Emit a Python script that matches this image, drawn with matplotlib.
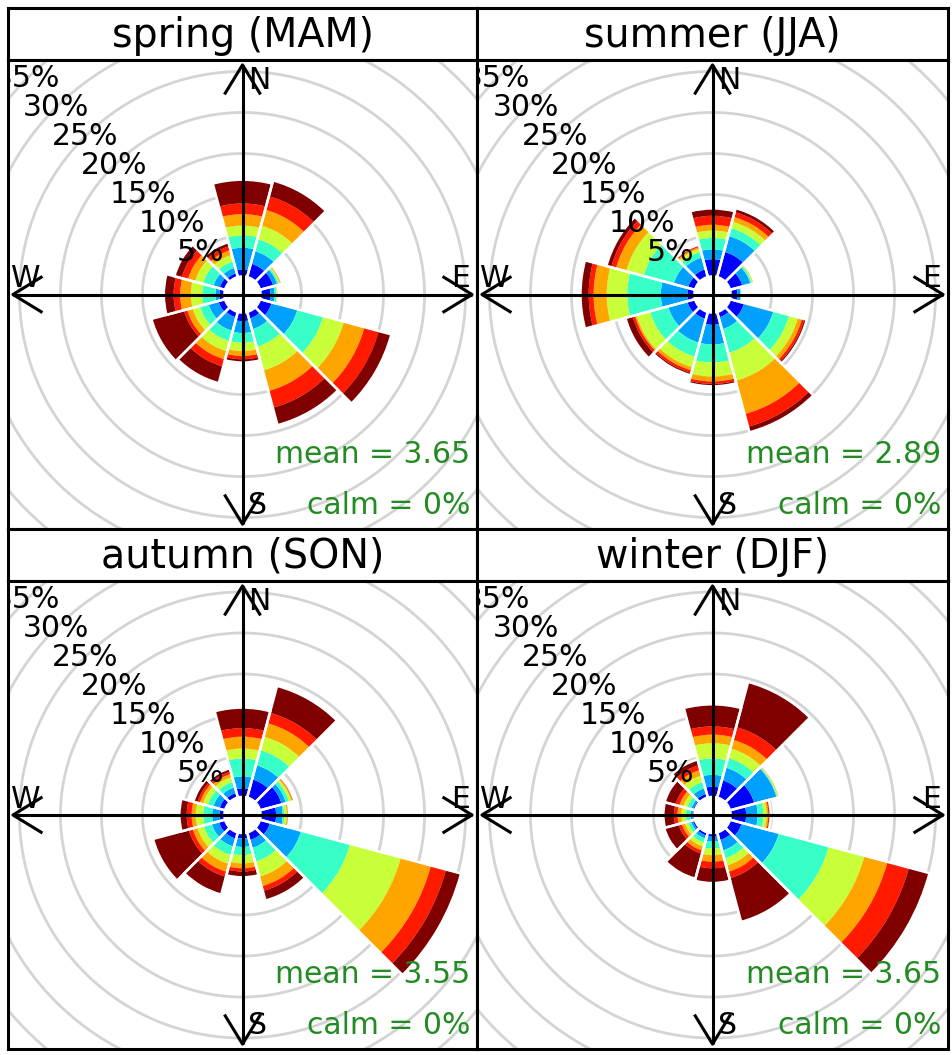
import matplotlib
matplotlib.use("Agg")
import matplotlib.pyplot as plt
from matplotlib.patches import Wedge
import numpy as np

W_PX, H_PX = 952, 1055
PX_PER_PCT = 8.2          # ring spacing: 41 px per 5 %
OFFSET = 2.2              # size of the hole, in %

seasons = ["spring (MAM)", "summer (JJA)", "autumn (SON)", "winter (DJF)"]
mean_ws = ["3.65", "2.89", "3.55", "3.65"]
calm_pct = [0, 0, 0, 0]
directions = [0, 30, 60, 90, 120, 150, 180, 210, 240, 270, 300, 330]
ring_pct = [5, 10, 15, 20, 25, 30, 35]
speed_cols = ["#0000FF", "#00A0FF", "#38FFC8", "#C8FF38", "#FFA500", "#FF1A00", "#800000"]

# cumulative frequency (%) at the top of each speed bin, one row per direction
spring = [
    [0.85, 3.5, 5.0, 6.2, 7.6, 8.9, 11.8],
    [1.7, 3.3, 4.8, 6.5, 8.5, 10.2, 12.2],
    [1.7, 2.2, 2.4, 2.55, 2.65, 2.7, 2.8],
    [1.2, 1.7, 1.95, 2.05, 2.1, 2.15, 2.2],
    [1.5, 4.75, 8.0, 10.6, 13.2, 15.0, 16.6],
    [0.85, 2.2, 4.4, 7.4, 10.0, 12.1, 14.3],
    [1.05, 2.5, 3.7, 4.7, 5.3, 5.7, 6.1],
    [0.7, 2.4, 3.7, 5.0, 6.0, 6.9, 9.0],
    [0.85, 2.1, 3.2, 4.1, 4.8, 5.2, 9.3],
    [0.6, 1.1, 2.7, 4.1, 5.4, 6.2, 7.4],
    [0.7, 1.5, 2.8, 3.8, 4.7, 5.5, 6.4],
    [0.5, 1.2, 2.0, 2.8, 3.4, 3.9, 4.4],
]
summer = [
    [2.1, 3.3, 4.7, 5.6, 6.3, 7.4, 8.3],
    [3.2, 5.2, 6.2, 7.0, 7.6, 8.2, 8.7],
    [1.6, 2.6, 2.8, 2.9, 3.0, 3.05, 3.1],
    [0.85, 1.2, 1.3, 1.35, 1.4, 1.42, 1.45],
    [1.8, 5.5, 7.5, 8.6, 9.1, 9.4, 9.7],
    [0.7, 2.2, 5.2, 8.7, 12.9, 14.5, 15.2],
    [1.5, 3.9, 6.1, 7.8, 8.4, 8.7, 9.0],
    [0.9, 3.9, 5.7, 7.0, 7.4, 7.7, 8.0],
    [1.0, 3.4, 5.7, 7.4, 7.6, 7.9, 8.8],
    [0.85, 4.1, 8.2, 10.7, 12.3, 12.9, 13.9],
    [0.9, 2.7, 6.5, 8.7, 10.0, 10.6, 11.2],
    [1.0, 2.5, 3.2, 3.6, 3.8, 3.95, 4.1],
]
autumn = [
    [1.05, 2.5, 4.7, 5.9, 7.35, 8.4, 10.9],
    [2.3, 4.1, 6.0, 7.7, 9.4, 10.7, 14.1],
    [2.75, 3.3, 3.7, 4.0, 4.15, 4.25, 4.35],
    [1.9, 2.7, 2.9, 3.2, 3.35, 3.45, 3.5],
    [1.3, 5.2, 11.4, 17.8, 21.6, 23.5, 25.4],
    [1.0, 2.0, 3.7, 5.6, 6.8, 7.4, 8.6],
    [0.65, 1.7, 2.7, 3.7, 4.3, 4.7, 5.4],
    [0.8, 1.8, 2.9, 4.0, 5.0, 5.6, 7.85],
    [0.8, 1.7, 2.7, 3.5, 4.1, 4.6, 9.1],
    [0.6, 1.5, 2.6, 3.5, 4.0, 4.6, 5.5],
    [0.7, 1.5, 2.2, 2.8, 3.2, 3.5, 4.0],
    [0.6, 1.3, 2.0, 2.6, 3.0, 3.3, 3.7],
]
winter = [
    [1.25, 2.7, 4.7, 6.55, 7.6, 8.6, 11.3],
    [2.2, 3.8, 5.0, 6.2, 7.3, 8.9, 14.6],
    [3.1, 5.9, 6.0, 6.1, 6.15, 6.2, 6.3],
    [1.9, 3.3, 4.0, 4.4, 4.6, 4.75, 4.9],
    [1.5, 6.2, 12.5, 17.0, 19.9, 22.6, 25.2],
    [1.0, 2.3, 3.3, 4.2, 5.0, 5.8, 11.3],
    [0.45, 1.05, 1.9, 2.7, 3.5, 4.3, 6.1],
    [0.4, 0.8, 1.3, 1.8, 2.3, 2.7, 5.85],
    [0.3, 0.55, 0.9, 1.3, 1.7, 2.1, 3.9],
    [0.25, 0.5, 1.05, 1.6, 2.07, 2.5, 3.8],
    [0.25, 0.5, 1.0, 1.5, 2.0, 2.5, 3.85],
    [0.5, 1.2, 2.0, 2.8, 3.5, 4.1, 4.8],
]
season_data = [spring, summer, autumn, winter]

# panel frames in pixels: columns and rows (strip, plot)
col_px = [(8, 477), (477, 948)]
row_px = [((8, 60), (60, 529)), ((529, 581), (581, 1049))]

fig = plt.figure(figsize=(W_PX / 100, H_PX / 100), dpi=100)
fig.patch.set_facecolor("white")


def px_axes(x0, y0, x1, y1):
    ax = fig.add_axes([x0 / W_PX, 1 - y1 / H_PX, (x1 - x0) / W_PX, (y1 - y0) / H_PX])
    ax.set_xticks([])
    ax.set_yticks([])
    for s in ax.spines.values():
        s.set_linewidth(2.2)
        s.set_color("black")
    return ax


lw_axis = 2.2
for i, name in enumerate(seasons):
    (sx0, sx1) = col_px[i % 2]
    (st, pl) = row_px[i // 2]

    strip = px_axes(sx0, st[0], sx1, st[1])
    strip.set_xlim(0, 1)
    strip.set_ylim(0, 1)
    strip.text(0.5, 0.47, name, ha="center", va="center", fontsize=28.5)

    ax = px_axes(sx0, pl[0], sx1, pl[1])
    hx = (sx1 - sx0) / 2 / PX_PER_PCT
    hy = (pl[1] - pl[0]) / 2 / PX_PER_PCT
    ax.set_xlim(-hx, hx)
    ax.set_ylim(-hy, hy)

    # grid circles
    th = np.linspace(0, 2 * np.pi, 400)
    for p in ring_pct:
        r = p + OFFSET
        ax.plot(r * np.cos(th), r * np.sin(th), color="#d4d4d4", lw=2, zorder=1)

    # stacked wedges
    cum = season_data[i]
    for d, row in zip(directions, cum):
        t1, t2 = 90 - d - 15, 90 - d + 15
        inner = 0.0
        for c, top in zip(speed_cols, row):
            ax.add_patch(Wedge((0, 0), top + OFFSET, t1, t2, width=top - inner,
                               facecolor=c, edgecolor="none", zorder=2))
            inner = top
        ax.add_patch(Wedge((0, 0), row[-1] + OFFSET, t1, t2, width=row[-1],
                           facecolor="none", edgecolor="white", lw=1.8, zorder=2.5))

    # compass arrows
    tx, ty = hx - 0.6, hy - 0.6
    hl, hw = 3.6, 2.2
    kw = dict(color="black", lw=lw_axis, zorder=3, solid_capstyle="butt")
    ax.plot([-tx, tx], [0, 0], **kw)
    ax.plot([0, 0], [-ty, ty], **kw)
    for sg in (-1, 1):
        ax.plot([sg * (tx - hl), sg * tx, sg * (tx - hl)], [hw, 0, -hw], **kw)
        ax.plot([hw, 0, -hw], [sg * (ty - hl), sg * ty, sg * (ty - hl)], **kw)

    fs = 21.5
    ax.text(0.512, 0.987, "N", transform=ax.transAxes, ha="left", va="top", fontsize=fs, zorder=4)
    ax.text(0.512, 0.032, "S", transform=ax.transAxes, ha="left", va="baseline", fontsize=fs, zorder=4)
    ax.text(0.985, 0.516, "E", transform=ax.transAxes, ha="right", va="baseline", fontsize=fs, zorder=4)
    ax.text(0.006, 0.516, "W", transform=ax.transAxes, ha="left", va="baseline", fontsize=fs, zorder=4)

    # ring labels along the NW diagonal
    a = np.deg2rad(135)
    for p in ring_pct:
        r = p + OFFSET
        ax.text(r * np.cos(a), r * np.sin(a), f"{p}%", ha="center", va="center",
                fontsize=fs, clip_on=True, zorder=5)

    ax.text(0.985, 0.141, f"mean = {mean_ws[i]}", transform=ax.transAxes, ha="right",
            va="baseline", fontsize=fs, color="forestgreen", zorder=4)
    ax.text(0.985, 0.032, f"calm = {calm_pct[i]}%", transform=ax.transAxes, ha="right",
            va="baseline", fontsize=fs, color="forestgreen", zorder=4)

fig.savefig("out.png", dpi=100, facecolor="white")
